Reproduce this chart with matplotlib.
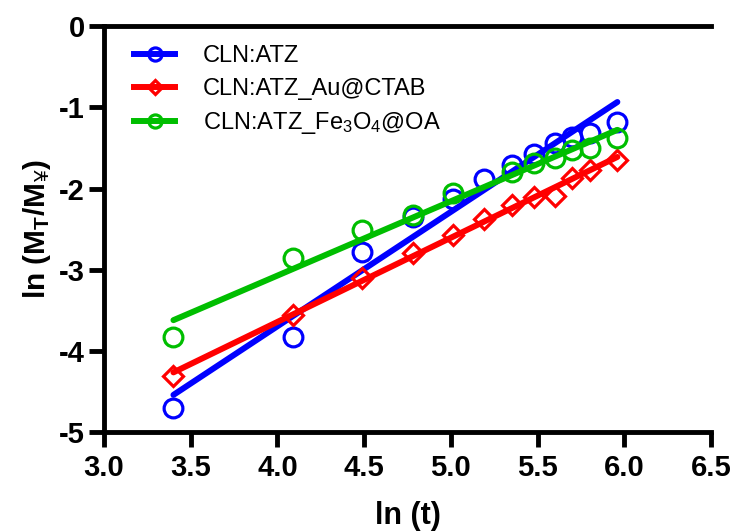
import matplotlib
matplotlib.use('Agg')
import matplotlib.pyplot as plt
import matplotlib as mpl
import numpy as np

# 字体设置
mpl.rcParams['font.family'] = ['Liberation Sans', 'DejaVu Sans']
mpl.rcParams['mathtext.fontset'] = 'custom'
mpl.rcParams['mathtext.rm'] = 'Liberation Sans'
mpl.rcParams['mathtext.it'] = 'Liberation Sans:italic'
mpl.rcParams['mathtext.bf'] = 'Liberation Sans:bold'

# ln(t) values
ln_t = [3.40, 4.09, 4.49, 4.78, 5.01, 5.19, 5.35, 5.48, 5.60, 5.70, 5.80, 5.96]

# ln(Mt/Minf) for each sample
atz = [-4.70, -3.83, -2.78, -2.35, -2.13, -1.88, -1.71, -1.57, -1.44, -1.36, -1.32, -1.18]
atz_au = [-4.31, -3.56, -3.10, -2.80, -2.57, -2.37, -2.20, -2.10, -2.09, -1.87, -1.77, -1.65]
atz_fe = [-3.83, -2.86, -2.51, -2.33, -2.06, None, -1.80, -1.69, -1.63, -1.53, -1.50, -1.38]

x_ticks = [3.0, 3.5, 4.0, 4.5, 5.0, 5.5, 6.0, 6.5]
y_ticks = [0, -1, -2, -3, -4, -5]

series = [
    ('CLN:ATZ', atz, '#0000FF', 'o'),
    ('CLN:ATZ_Au@CTAB', atz_au, '#FF0000', 'D'),
    ('CLN:ATZ_Fe$_3$O$_4$@OA', atz_fe, '#00BE00', 'o'),
]

fig = plt.figure(figsize=(7.33, 5.31), dpi=100)
ax = fig.add_axes([0.142, 0.186, 0.828, 0.765])

handles = []
for label, vals, color, mk in series:
    x = np.array([a for a, b in zip(ln_t, vals) if b is not None])
    y = np.array([b for b in vals if b is not None])
    k, b = np.polyfit(x, y, 1)
    xx = np.array([x.min(), x.max()])
    ms = 13.5 if mk == 'o' else 10
    ax.plot(x, y, linestyle='none', marker=mk, markersize=ms, markerfacecolor='none',
            markeredgecolor=color, markeredgewidth=2.3)
    ax.plot(xx, k * xx + b, color=color, linewidth=4.3, solid_capstyle='round')
    # 图例句柄
    h, = ax.plot([], [], color=color, linewidth=4.3, marker=mk, markersize=ms * 0.7,
                 markerfacecolor='none', markeredgecolor=color, markeredgewidth=2.3, label=label)
    handles.append(h)

ax.set_xlim(3.0, 6.5)
ax.set_ylim(-5, 0)
ax.set_xticks(x_ticks)
ax.set_xticklabels(['%.1f' % v for v in x_ticks])
ax.set_yticks(y_ticks)
ax.set_yticklabels(['%d' % v for v in y_ticks])

for s in ['left', 'bottom', 'top']:
    ax.spines[s].set_linewidth(3.5)
ax.spines['right'].set_visible(False)
ax.tick_params(axis='both', which='major', direction='out', length=11, width=3.5,
               labelsize=21, top=False, right=False)
ax.tick_params(axis='x', pad=5)
ax.tick_params(axis='y', pad=3)
for t in ax.get_xticklabels() + ax.get_yticklabels():
    t.set_fontweight('bold')

ax.set_xlabel('ln (t)', fontsize=22, fontweight='bold', labelpad=13)
ax.set_ylabel(r'ln (M$_\mathbf{T}$/M$_{\mathrm{¥}}$)', fontsize=21.5, fontweight='bold', labelpad=4)

ax.legend(handles=handles, loc='upper left', bbox_to_anchor=(0.015, 1.005), frameon=False,
          fontsize=17, handlelength=1.7, labelspacing=0.45, handletextpad=1.2)

plt.savefig('out.png', dpi=100)
plt.close()
